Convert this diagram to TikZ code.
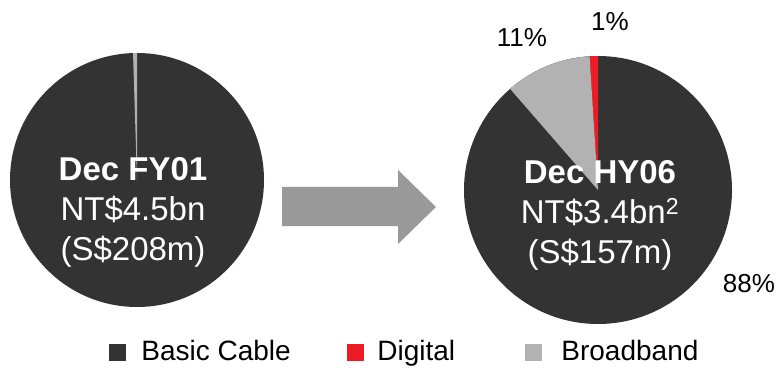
\documentclass[tikz,border=0pt]{standalone}
\usepackage{fontspec}
\setmainfont{Liberation Sans}
\usetikzlibrary{positioning}
\definecolor{basic}{HTML}{333333}
\definecolor{digital}{HTML}{ED1C24}
\definecolor{broad}{HTML}{B2B2B2}
\definecolor{arrowgray}{HTML}{999999}
\tikzset{
    x=1pt, y=1pt,
    pietext/.style={
        text=white,
        align=center,
        font=\fontsize{33}{40}\selectfont
    },
    pct/.style={
        font=\fontsize{26}{30}\selectfont,
        inner sep=0pt
    },
    legbox/.style={
        minimum size=17pt,
        inner sep=0pt
    },
    legtext/.style={
        font=\fontsize{28}{32}\selectfont,
        inner sep=0pt,
        text height=17pt,
        text depth=0pt
    }
}

\begin{document}
\begin{tikzpicture}
    \useasboundingbox (0,0) rectangle (778,367);
    \coordinate (fy01) at (137,187);
    \coordinate (hy06) at (598,177);

    \fill[basic] (fy01) circle[radius=127];
    \fill[broad] (fy01) -- ++(90:127) arc[start angle=90, end angle=91.8, radius=127] -- cycle;
    \node[pietext] (fy01lbl) at (133,155) {\textbf{Dec FY01}\\NT\$4.5bn\\(S\$208m)};

    \fill[basic] (hy06) circle[radius=134];
    \fill[digital] (hy06) -- ++(90:134) arc[start angle=90, end angle=93.6, radius=134] -- cycle;
    \fill[broad] (hy06) -- ++(93.6:134) arc[start angle=93.6, end angle=131, radius=134] -- cycle;
    \node[pietext] (hy06lbl) at (600,152) {\textbf{Dec HY06}\\NT\$3.4bn\textsuperscript{2}\\(S\$157m)};

    \node[pct] (pdigital) at (610,345) {1\%};
    \node[pct] (pbroad) at (522,329) {11\%};
    \node[pct] (pbasic) at (749,83) {88\%};

    \fill[arrowgray] (282,141) -- (282,180) -- (398,180) -- (398,197)
        -- (436,160) -- (398,123) -- (398,141) -- cycle;

    \node[legbox, fill=basic] (sqbasic) at (117.5,15) {};
    \node[legtext, right=15pt of sqbasic] (txbasic) {Basic Cable};
    \node[legbox, fill=digital] (sqdigital) at (355.5,15) {};
    \node[legtext, right=13pt of sqdigital] (txdigital) {Digital};
    \node[legbox, fill=broad] (sqbroad) at (533.5,15) {};
    \node[legtext, right=19pt of sqbroad] (txbroad) {Broadband};
\end{tikzpicture}
\end{document}
